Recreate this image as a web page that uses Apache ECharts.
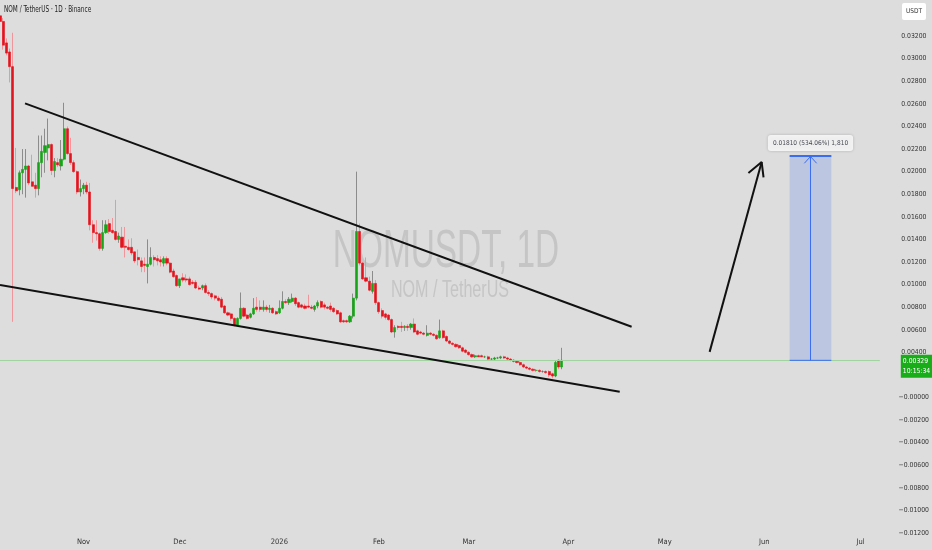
<!DOCTYPE html>
<html><head><meta charset="utf-8">
<script src="https://cdn.jsdelivr.net/npm/echarts@6/dist/echarts.min.js"></script>
<style>html,body{margin:0;padding:0;background:#dddddd;}#c{width:932px;height:550px;}</style>
</head><body><div id="c"></div>
<script>
const startDate = '2025-10-06';
const dayCount = 275;
const monthNames = ['Jan','Feb','Mar','Apr','May','Jun','Jul','Aug','Sep','Oct','Nov','Dec'];
// daily candles: [open, high, low, close]
const candles = [
[0.0338,0.0345,0.0330,0.0333],[0.0333,0.0336,0.0308,0.0312],[0.0314,0.0318,0.0303,0.0305],[0.0306,0.0309,0.0279,0.0293],
[0.0293,0.0323,0.0067,0.0185],[0.0186,0.0221,0.0181,0.0183],[0.0184,0.0201,0.0179,0.0199],[0.0199,0.0220,0.0180,0.0202],
[0.0202,0.0220,0.0177,0.0205],[0.0205,0.0206,0.0188,0.0190],[0.0191,0.0215,0.0187,0.0187],[0.0188,0.0199,0.0177,0.0185],
[0.0185,0.0232,0.0179,0.0208],[0.0208,0.0232,0.0195,0.0218],[0.0217,0.0238,0.0199,0.0223],[0.0221,0.0247,0.0210,0.0224],
[0.0224,0.0225,0.0197,0.0201],[0.0201,0.0212,0.0195,0.0209],[0.0208,0.0212,0.0204,0.0206],[0.0205,0.0228,0.0201,0.0211],
[0.0211,0.0261,0.0210,0.0238],[0.0238,0.0240,0.0215,0.0216],[0.0216,0.0230,0.0206,0.0208],[0.0208,0.0210,0.0199,0.0200],
[0.0200,0.0201,0.0180,0.0182],[0.0182,0.0193,0.0178,0.0185],[0.0185,0.0190,0.0180,0.0188],[0.0188,0.0191,0.0180,0.0182],
[0.0182,0.0190,0.0148,0.0153],[0.0153,0.0157,0.0137,0.0146],[0.0146,0.0157,0.0139,0.0145],[0.0145,0.0146,0.0130,0.0132],
[0.0132,0.0157,0.0130,0.0146],[0.0146,0.0157,0.0145,0.0153],[0.0154,0.0158,0.0145,0.0147],[0.0148,0.0159,0.0145,0.0146],
[0.0147,0.0175,0.0139,0.0140],[0.0140,0.0146,0.0137,0.0143],[0.0142,0.0151,0.0132,0.0133],[0.0134,0.0151,0.0124,0.0133],
[0.0133,0.0140,0.0130,0.0131],[0.0133,0.0141,0.0126,0.0128],[0.0129,0.0129,0.0119,0.0121],[0.0124,0.0131,0.0117,0.0122],
[0.0121,0.0124,0.0111,0.0116],[0.0118,0.0124,0.0111,0.0117],[0.0116,0.0140,0.0101,0.0118],[0.0118,0.0133,0.0117,0.0124],
[0.0124,0.0126,0.0116,0.0122],[0.0123,0.0126,0.0117,0.0121],[0.0122,0.0125,0.0116,0.0120],[0.0119,0.0125,0.0116,0.0123],
[0.0123,0.0125,0.0117,0.0119],[0.0119,0.0120,0.0110,0.0111],[0.0112,0.0114,0.0106,0.0107],[0.0108,0.0109,0.0098,0.0099],
[0.0099,0.0105,0.0097,0.0105],[0.0106,0.0110,0.0102,0.0104],[0.0105,0.0109,0.0102,0.0104],[0.0105,0.0107,0.0099,0.0100],
[0.0102,0.0104,0.0100,0.0101],[0.0102,0.0104,0.0096,0.0097],[0.0097,0.0099,0.0095,0.0096],[0.0097,0.0100,0.0095,0.0099],
[0.0099,0.0101,0.0092,0.0093],[0.0093,0.0095,0.0090,0.0092],[0.0092,0.0093,0.0087,0.0089],[0.0090,0.0091,0.0086,0.0088],
[0.0088,0.0090,0.0085,0.0086],[0.0087,0.0089,0.0079,0.0080],[0.0081,0.0082,0.0074,0.0075],[0.0075,0.0076,0.0072,0.0073],
[0.0074,0.0075,0.0068,0.0070],[0.0070,0.0071,0.0063,0.0064],[0.0064,0.0071,0.0063,0.0070],[0.0070,0.0093,0.0069,0.0079],
[0.0079,0.0080,0.0071,0.0072],[0.0073,0.0074,0.0069,0.0070],[0.0071,0.0075,0.0070,0.0074],[0.0074,0.0088,0.0073,0.0079],
[0.0080,0.0089,0.0076,0.0078],[0.0080,0.0086,0.0076,0.0078],[0.0078,0.0086,0.0076,0.0080],[0.0080,0.0082,0.0076,0.0078],
[0.0078,0.0082,0.0075,0.0079],[0.0079,0.0080,0.0074,0.0075],[0.0076,0.0077,0.0073,0.0074],[0.0075,0.0086,0.0074,0.0079],
[0.0079,0.0094,0.0078,0.0085],[0.0085,0.0087,0.0083,0.0084],[0.0084,0.0089,0.0082,0.0087],[0.0085,0.0092,0.0084,0.0088],
[0.0088,0.0089,0.0081,0.0083],[0.0084,0.0085,0.0079,0.0080],[0.0082,0.0083,0.0079,0.0080],[0.0081,0.0083,0.0078,0.0079],
[0.0081,0.0091,0.0079,0.0080],[0.0080,0.0082,0.0078,0.0079],[0.0078,0.0082,0.0076,0.0081],[0.0081,0.0086,0.0079,0.0084],
[0.0085,0.0086,0.0079,0.0080],[0.0082,0.0084,0.0078,0.0080],[0.0080,0.0081,0.0078,0.0079],[0.0081,0.0084,0.0076,0.0078],
[0.0079,0.0080,0.0075,0.0076],[0.0077,0.0078,0.0073,0.0074],[0.0075,0.0076,0.0066,0.0067],[0.0068,0.0069,0.0066,0.0067],
[0.0068,0.0069,0.0066,0.0067],[0.0067,0.0073,0.0066,0.0072],[0.0072,0.0092,0.0070,0.0088],[0.0088,0.0200,0.0086,0.0147],
[0.0147,0.0154,0.0117,0.0119],[0.0119,0.0120,0.0104,0.0105],[0.0106,0.0124,0.0102,0.0103],[0.0103,0.0107,0.0094,0.0095],
[0.0094,0.0112,0.0092,0.0101],[0.0101,0.0104,0.0082,0.0084],[0.0084,0.0085,0.0074,0.0076],[0.0077,0.0079,0.0070,0.0072],
[0.0074,0.0075,0.0069,0.0071],[0.0073,0.0074,0.0068,0.0069],[0.0069,0.0070,0.0057,0.0058],[0.0058,0.0064,0.0053,0.0062],
[0.0063,0.0064,0.0060,0.0062],[0.0063,0.0067,0.0058,0.0062],[0.0062,0.0064,0.0059,0.0063],[0.0063,0.0065,0.0059,0.0062],
[0.0062,0.0066,0.0060,0.0065],[0.0065,0.0070,0.0057,0.0058],[0.0059,0.0060,0.0055,0.0056],[0.0058,0.0059,0.0056,0.0057],
[0.0057,0.0058,0.0055,0.0056],[0.0055,0.0064,0.0054,0.0057],[0.0057,0.0058,0.0055,0.0056],[0.0056,0.0057,0.0054,0.0055],
[0.0055,0.0056,0.0051,0.0052],[0.0053,0.0069,0.0052,0.0059],[0.0059,0.0060,0.0052,0.0053],[0.0054,0.0055,0.0049,0.0050],
[0.0050,0.0051,0.0047,0.0048],[0.0048,0.0049,0.0046,0.0047],[0.0047,0.0048,0.0044,0.0045],[0.0046,0.0047,0.0043,0.0044],
[0.0044,0.0045,0.0040,0.0041],[0.0042,0.0043,0.0039,0.0040],[0.0040,0.0041,0.0037,0.0038],[0.0038,0.0039,0.0035,0.0036],
[0.0036,0.0038,0.0035,0.0037],[0.0037,0.0038,0.0036,0.0036],[0.0037,0.0038,0.0036,0.0036],[0.0036,0.0037,0.0035,0.0036],
[0.0036,0.0037,0.0033,0.0034],[0.0034,0.0035,0.0033,0.0034],[0.0034,0.0036,0.0033,0.0035],[0.0035,0.0036,0.0034,0.0035],
[0.0035,0.0037,0.0034,0.0036],[0.0036,0.0037,0.0034,0.0035],[0.0035,0.0036,0.0033,0.0034],[0.0034,0.0035,0.0032,0.0033],
[0.0033,0.0034,0.0031,0.0032],[0.0032,0.0033,0.0030,0.0031],[0.0031,0.0032,0.0028,0.0029],[0.0029,0.0030,0.0026,0.0027],
[0.0027,0.0028,0.0025,0.0026],[0.0026,0.0027,0.0024,0.0025],[0.0025,0.0026,0.0023,0.0024],[0.0024,0.0025,0.0023,0.0024],
[0.0024,0.0025,0.0022,0.0023],[0.0023,0.0024,0.0022,0.0023],[0.0023,0.0024,0.0021,0.0022],[0.0023,0.0024,0.0018,0.0020],
[0.0021,0.0022,0.0017,0.0019],[0.0019,0.0033,0.0018,0.0031],[0.0033,0.0034,0.0025,0.0027],[0.0027,0.0044,0.0025,0.00329]
];
const lastPrice = 0.00329;
const countdown = '10:15:34';
const upperTrend = [['2025-10-13T19:00', 0.02605], ['2026-04-20T17:00', 0.00627]];
const lowerTrend = [['2025-10-06T00:00', 0.00996], ['2026-04-17T00:00', 0.00051]];
const arrowShaft = [['2026-05-15T00:00', 0.00404], ['2026-05-31T05:00', 0.02085]];
const arrowHead = [['2026-05-27T02:00', 0.01988], ['2026-05-31T05:00', 0.02085], ['2026-05-31T19:00', 0.01949]];
const rangeDates = ['2026-06-08T22:00', '2026-06-15T10:00', '2026-06-21T22:00'];
const rangePrices = [0.00329, 0.02139];
const rangeHead = [['2026-06-13T12:00', 0.02074], ['2026-06-15T10:00', 0.02134], ['2026-06-17T08:00', 0.02074]];
const rangeText = '0.01810 (534.06%) 1,810';
const titleText = 'NOM / TetherUS · 1D · Binance';

const FONT = "'Liberation Sans Narrow','DejaVu Sans Condensed','Liberation Sans',sans-serif";
const DAY = 86400000;
const t0 = Date.parse(startDate + 'T00:00:00Z');
const dates = [];
for (let i = 0; i < dayCount; i++) dates.push(new Date(t0 + i * DAY).toISOString().slice(0, 10));
const idx = s => (Date.parse(s + ':00Z') - t0) / DAY;
const pts = arr => arr.map(p => [idx(p[0]), p[1]]);

const wickData = candles.map(c => [c[0], c[3], c[2], c[1]]);
const bodyData = candles.map(c => [c[0], c[3], Math.min(c[0], c[3]), Math.max(c[0], c[3])]);

const RED = '#e3141e', GREEN = '#16a516', BLUE = '#3a6df0';
function lineSeries(data, color, width, extra) {
  return Object.assign({ type: 'line', xAxisIndex: 1, data: data, symbol: 'none', silent: true,
    lineStyle: { color: color, width: width }, z: 5, animation: false }, extra || {});
}
const rL = idx(rangeDates[0]), rC = idx(rangeDates[1]), rR = idx(rangeDates[2]);

const chart = echarts.init(document.getElementById('c'), null, { renderer: 'canvas' });
chart.setOption({
  animation: false,
  backgroundColor: '#dddddd',
  grid: { left: 0, right: 52, top: 0, bottom: 17 },
  xAxis: [
    { type: 'category', data: dates, boundaryGap: false,
      axisLine: { show: false }, axisTick: { show: false }, splitLine: { show: false },
      axisLabel: { interval: (i, v) => v.slice(8) === '01', margin: 5, fontSize: 7.5, color: '#333', fontFamily: FONT,
        formatter: v => { const m = +v.slice(5, 7); return m === 1 ? v.slice(0, 4) : monthNames[m - 1]; } } },
    { type: 'value', min: 0, max: dayCount - 1, show: false }
  ],
  yAxis: { type: 'value', position: 'right', min: -0.012, max: 0.0352, interval: 0.002, scale: false,
    axisLine: { show: false }, axisTick: { show: false }, splitLine: { show: false },
    axisLabel: { margin: 34, align: 'center', fontSize: 6.8, color: '#333', fontFamily: FONT,
      formatter: v => { if (v > 0.033) return ''; if (Math.abs(v) < 1e-9) return '\u22120.00000';
        return v < 0 ? '\u2212' + Math.abs(v).toFixed(5) : v.toFixed(5); } } },
  graphic: [
    { type: 'text', x: 4, y: 10, scaleX: 0.8, silent: true,
      style: { text: titleText, font: "8px " + FONT, fill: '#222', textAlign: 'left', textVerticalAlign: 'middle' } },
    { type: 'text', x: 446, y: 252, scaleX: 0.63, silent: true, z: 0,
      style: { text: 'NOMUSDT, 1D', font: "53px 'Liberation Sans', Arial, sans-serif", fill: '#c5c5c5', textAlign: 'center', textVerticalAlign: 'middle' } },
    { type: 'text', x: 450, y: 291, scaleX: 0.7, silent: true, z: 0,
      style: { text: 'NOM / TetherUS', font: "23px 'Liberation Sans', Arial, sans-serif", fill: '#c5c5c5', textAlign: 'center', textVerticalAlign: 'middle' } },
    { type: 'group', right: 6, top: 3, children: [
      { type: 'rect', shape: { x: 0, y: 0, width: 24, height: 17, r: 2 }, style: { fill: '#ffffff' } },
      { type: 'text', x: 12, y: 8.5, style: { text: 'USDT', font: "6.5px " + FONT, fill: '#333', textAlign: 'center', textVerticalAlign: 'middle' } }
    ] }
  ],
  series: [
    { type: 'candlestick', name: 'wick', data: wickData, barWidth: 0.01, silent: true, z: 2,
      itemStyle: { color: '#8c8c8c', color0: '#f0959b', borderColor: '#8c8c8c', borderColor0: '#f0959b', borderWidth: 1 } },
    { type: 'candlestick', name: 'NOMUSDT', data: bodyData, barWidth: 2.6, silent: true, z: 3,
      itemStyle: { color: GREEN, color0: RED, borderColor: GREEN, borderColor0: RED, borderWidth: 0.6 } },
    lineSeries(pts(upperTrend), '#111', 2),
    lineSeries(pts(lowerTrend), '#111', 2, {
      markLine: { silent: true, symbol: 'none', animation: false, precision: 6,
        lineStyle: { color: '#9fd49f', width: 1, type: 'solid' },
        label: { show: true, position: 'end', distance: 21, offset: [0, 6], formatter: lastPrice.toFixed(5) + '\n' + countdown,
          color: '#fff', backgroundColor: '#19ad19', padding: [2, 2, 2, 2], fontSize: 6.8, lineHeight: 9.5, fontFamily: FONT },
        data: [{ yAxis: lastPrice }] } }),
    lineSeries(pts(arrowShaft), '#111', 2),
    lineSeries(pts(arrowHead), '#111', 2),
    { type: 'scatter', xAxisIndex: 1, data: [[rC, rangePrices[1]]], symbolSize: 0, silent: true, z: 6,
      label: { show: true, position: 'top', distance: 5, formatter: rangeText, color: '#131722', fontSize: 6.5, fontFamily: FONT,
        backgroundColor: '#ffffff', borderRadius: 3, padding: [5, 5, 4, 5], shadowBlur: 3, shadowColor: 'rgba(0,0,0,0.25)' },
      markArea: { silent: true, itemStyle: { color: 'rgba(58,109,240,0.2)' },
        data: [[{ coord: [rL, rangePrices[0]] }, { coord: [rR, rangePrices[1]] }]] } },
    lineSeries([[rL, rangePrices[1]], [rR, rangePrices[1]]], BLUE, 2),
    lineSeries([[rL, rangePrices[0]], [rR, rangePrices[0]]], BLUE, 1),
    lineSeries([[rC, rangePrices[0]], [rC, rangePrices[1]]], BLUE, 1),
    lineSeries(pts(rangeHead), BLUE, 1)
  ]
});
</script></body></html>
